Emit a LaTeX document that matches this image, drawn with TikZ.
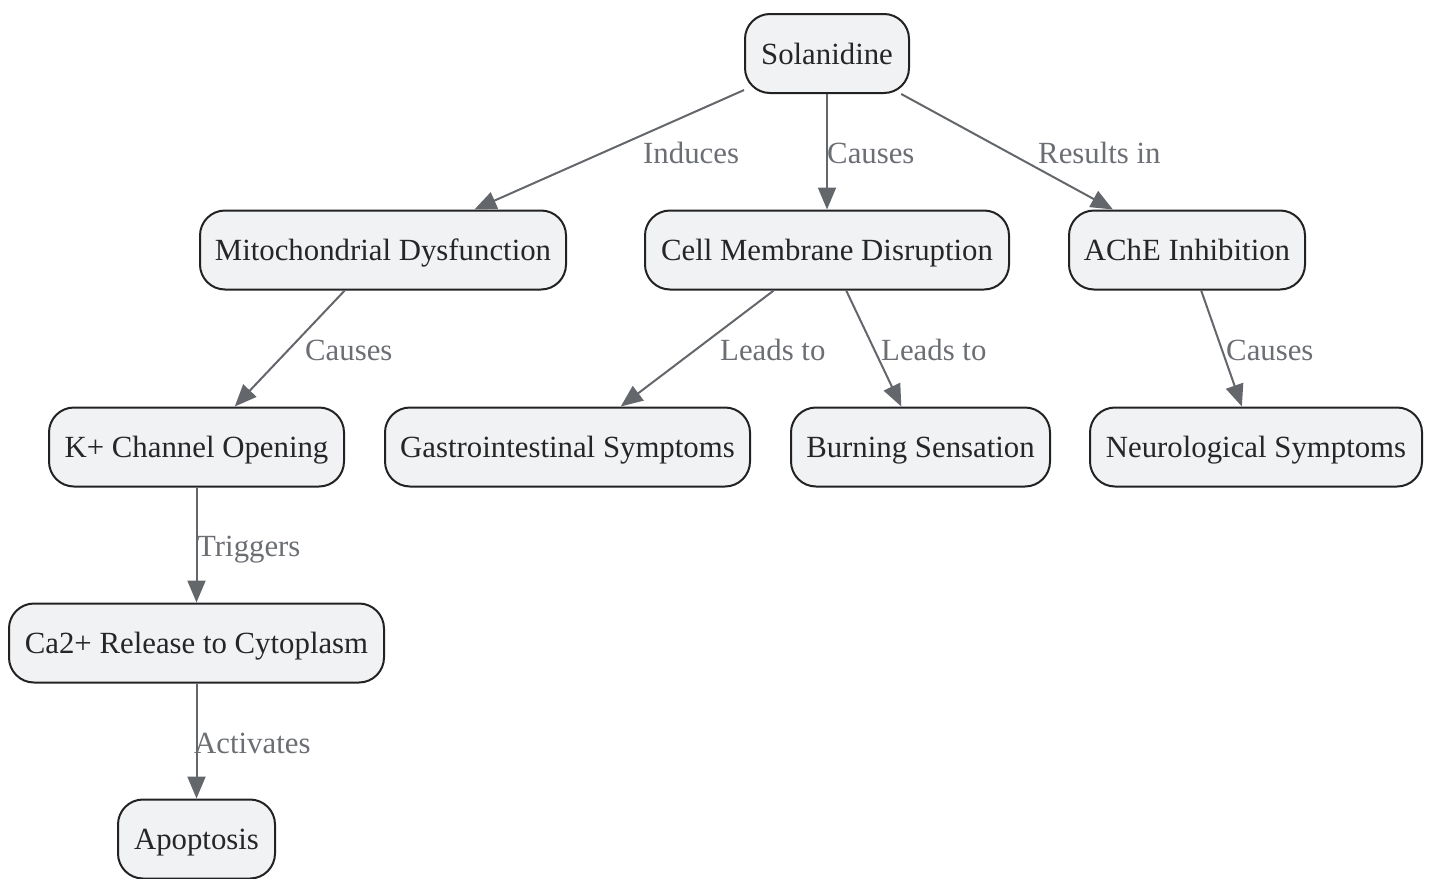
\documentclass[tikz,border=0pt]{standalone}
\usepackage{fontspec}
\setmainfont{Liberation Serif}
\usetikzlibrary{arrows.meta}
\definecolor{boxfill}{HTML}{F1F2F4}
\definecolor{boxline}{HTML}{222222}
\definecolor{edgecol}{HTML}{63666B}
\definecolor{lblcol}{HTML}{6B6E73}
\begin{document}
\begin{tikzpicture}[x=1pt,y=-1pt,
  box/.style={draw=boxline, fill=boxfill, line width=2pt, rounded corners=25pt,
    minimum height=79pt, inner sep=0pt, text=black!85, text height=28pt, text depth=7pt,
    font=\fontsize{30.8}{37}\selectfont},
  edge/.style={draw=edgecol, line width=2pt, -{Triangle[length=22pt,width=18pt]}},
  lbl/.style={text=lblcol, inner sep=0pt, anchor=west, text height=28pt, text depth=7pt,
    font=\fontsize{30.8}{37}\selectfont}]
\useasboundingbox (0,0) rectangle (1431,878);
\node[box, minimum width=164pt] (sol) at (827,53.5) {Solanidine};
\node[box, minimum width=366pt] (mito) at (383,250) {Mitochondrial Dysfunction};
\node[box, minimum width=364pt] (cell) at (827,250) {Cell Membrane Disruption};
\node[box, minimum width=236pt] (ache) at (1187,250) {AChE Inhibition};
\node[box, minimum width=295pt] (kplus) at (196.5,447) {K+ Channel Opening};
\node[box, minimum width=365pt] (gi) at (567.5,447) {Gastrointestinal Symptoms};
\node[box, minimum width=259pt] (burn) at (920.5,447) {Burning Sensation};
\node[box, minimum width=332pt] (neuro) at (1256,447) {Neurological Symptoms};
\node[box, minimum width=375pt] (ca) at (196.5,643) {Ca2+ Release to Cytoplasm};
\node[box, minimum width=157pt] (apo) at (196.5,839) {Apoptosis};
\draw[edge] (sol) -- (mito);
\draw[edge] (sol) -- (cell);
\draw[edge] (sol) -- (ache);
\draw[edge] (mito) -- (kplus);
\draw[edge] (cell) -- (gi);
\draw[edge] (cell) -- (burn);
\draw[edge] (ache) -- (neuro);
\draw[edge] (kplus) -- (ca);
\draw[edge] (ca) -- (apo);
\node[lbl] (l1) at (643,153) {Induces};
\node[lbl] (l2) at (827,153) {Causes};
\node[lbl] (l3) at (1038,153) {Results in};
\node[lbl] (l4) at (305,350) {Causes};
\node[lbl] (l5) at (720,350) {Leads to};
\node[lbl] (l6) at (881,350) {Leads to};
\node[lbl] (l7) at (1226,350) {Causes};
\node[lbl] (l8) at (197,546) {Triggers};
\node[lbl] (l9) at (194,743) {Activates};
\end{tikzpicture}
\end{document}
